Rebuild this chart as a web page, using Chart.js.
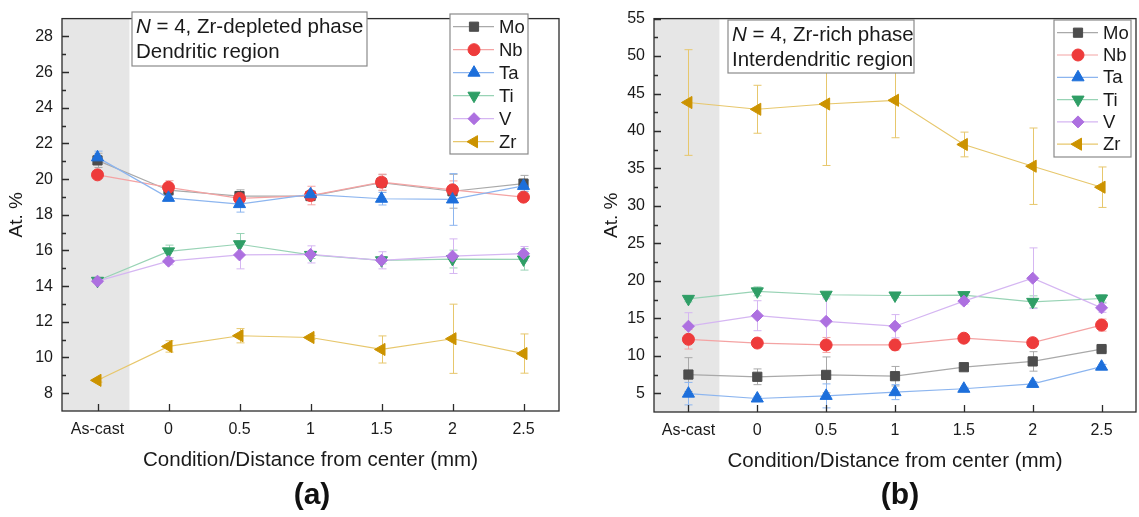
<!DOCTYPE html>
<html>
<head>
<meta charset="utf-8">
<title>Composition profiles</title>
<script src="https://cdn.jsdelivr.net/npm/chart.js@4/dist/chart.umd.min.js"></script>
<style>
  html, body { margin: 0; padding: 0; background: #fff; overflow: hidden; }
  #wrap { position: relative; width: 1139px; height: 517px; overflow: hidden; }
  canvas { position: absolute; top: 0; }
  #chartA { left: 0; }
  #chartB { left: 570px; }
  .tag { position: absolute; top: 477px; width: 80px; text-align: center;
         font: bold 30px "Liberation Sans", Arial, sans-serif; color: #111; }
</style>
</head>
<body>
<div id="wrap">
  <canvas id="chartA" width="570" height="517"></canvas>
  <canvas id="chartB" width="574" height="517"></canvas>
  <div class="tag" style="left:272px">(a)</div>
  <div class="tag" style="left:860px">(b)</div>
</div>
<script>
const categories = ['As-cast', '0', '0.5', '1', '1.5', '2', '2.5'];
const elements = ['Mo', 'Nb', 'Ta', 'Ti', 'V', 'Zr'];

// (a) Zr-depleted phase, dendritic region
const moA = [21.05, 19.38, 19.05, 19.05, 19.8, 19.32, 19.75];
const nbA = [20.24, 19.54, 18.92, 19.08, 19.83, 19.4, 18.99];
const taA = [21.22, 18.95, 18.6, 19.15, 18.9, 18.86, 19.62];
const tiA = [14.3, 15.95, 16.35, 15.75, 15.45, 15.52, 15.5];
const vA  = [14.28, 15.4, 15.75, 15.78, 15.45, 15.68, 15.82];
const zrA = [8.72, 10.62, 11.22, 11.12, 10.45, 11.05, 10.22];
const moErrA = [0.4, 0.2, 0.35, 0.2, 0.45, 0.95, 0.46];
const nbErrA = [0.1, 0.37, 0.3, 0.52, 0.45, 0.5, 0.15];
const taErrA = [0.35, 0.15, 0.45, 0.2, 0.35, 1.45, 0.3];
const tiErrA = [0.1, 0.35, 0.6, 0.2, 0.2, 0.5, 0.6];
const vErrA  = [0.1, 0.2, 0.78, 0.48, 0.48, 0.97, 0.4];
const zrErrA = [0.1, 0.32, 0.4, 0.1, 0.76, 1.94, 1.1];

// (b) Zr-rich phase, interdendritic region
const moB = [7.5, 7.2, 7.45, 7.28, 8.48, 9.25, 10.9];
const nbB = [12.2, 11.7, 11.45, 11.45, 12.35, 11.75, 14.1];
const taB = [4.95, 4.3, 4.65, 5.15, 5.6, 6.25, 8.55];
const tiB = [17.6, 18.6, 18.15, 18.05, 18.1, 17.2, 17.65];
const vB  = [13.95, 15.35, 14.6, 13.95, 17.3, 20.35, 16.4];
const zrB = [43.8, 42.9, 43.6, 44.1, 38.2, 35.3, 32.5];
const moErrB = [2.25, 1.05, 2.4, 1.3, 0.3, 1.3, 0.3];
const nbErrB = [1.3, 0.3, 1.0, 0.7, 0.3, 0.3, 0.8];
const taErrB = [1.5, 0.3, 1.6, 1.0, 0.2, 0.3, 0.3];
const tiErrB = [0.4, 0.6, 0.3, 0.3, 0.3, 0.8, 0.5];
const vErrB  = [1.8, 2.0, 3.0, 1.55, 0.4, 4.05, 0.6];
const zrErrB = [7.05, 3.2, 8.2, 5.0, 1.65, 5.1, 2.7];

const yTicksA = [8, 10, 12, 14, 16, 18, 20, 22, 24, 26, 28];
const yTicksB = [5, 10, 15, 20, 25, 30, 35, 40, 45, 50, 55];

const FONT = '"Liberation Sans", Arial, sans-serif';
const INK = '#1a1a1a';

const styles = {
  Mo: { mark: '#4d4d4d', line: '#a9a9a9', shape: 'rect', r: 6.5, rot: 0 },
  Nb: { mark: '#ee3b3b', line: '#f4a3a3', shape: 'circle', r: 6, rot: 0 },
  Ta: { mark: '#1d6fdb', line: '#8cb5ef', shape: 'triangle', r: 7, rot: 0 },
  Ti: { mark: '#2f9e66', line: '#98d3b5', shape: 'triangle', r: 7, rot: 180 },
  V:  { mark: '#ad70e0', line: '#d5b6f2', shape: 'rectRot', r: 6, rot: 0 },
  Zr: { mark: '#cc9300', line: '#e7c76c', shape: 'triangle', r: 7, rot: -90 }
};

function makeSets(values, errors) {
  return elements.map((el, i) => {
    const s = styles[el];
    return {
      label: el,
      data: values[i],
      errors: errors[i],
      borderColor: s.line,
      borderWidth: 1.2,
      pointStyle: s.shape,
      pointRadius: s.r,
      pointHoverRadius: s.r,
      pointRotation: s.rot,
      pointBackgroundColor: s.mark,
      pointBorderColor: s.mark,
      pointBorderWidth: 1,
      order: elements.length - 1 - i
    };
  });
}

// shading, error bars, inward ticks, frame, note box and legend
const framePlugin = {
  id: 'frame',
  beforeDatasetsDraw(chart, args, opts) {
    const { ctx, chartArea: a, scales: { x, y } } = chart;
    ctx.save();
    const xs = x.getPixelForValue(opts.shadeTo);
    ctx.fillStyle = '#e6e6e6';
    ctx.fillRect(a.left, a.top, xs - a.left, a.bottom - a.top);

    ctx.lineWidth = 1;
    chart.data.datasets.forEach(ds => {
      ctx.strokeStyle = ds.borderColor;
      ds.data.forEach((v, j) => {
        const e = ds.errors[j];
        const px = Math.round(x.getPixelForValue(j)) + 0.5;
        const t = y.getPixelForValue(v + e);
        const b = y.getPixelForValue(v - e);
        ctx.beginPath();
        ctx.moveTo(px, t); ctx.lineTo(px, b);
        ctx.moveTo(px - 4, t); ctx.lineTo(px + 4, t);
        ctx.moveTo(px - 4, b); ctx.lineTo(px + 4, b);
        ctx.stroke();
      });
    });
    ctx.restore();
  },
  afterDatasetsDraw(chart, args, opts) {
    const { ctx, chartArea: a, scales: { x, y } } = chart;
    ctx.save();
    ctx.strokeStyle = '#2b2b2b';
    ctx.lineWidth = 1.3;
    ctx.beginPath();
    y.ticks.forEach(t => {
      const py = Math.round(y.getPixelForValue(t.value)) + 0.5;
      ctx.moveTo(a.left, py); ctx.lineTo(a.left + 7, py);
    });
    for (let k = 0; k < y.ticks.length - 1; k++) {
      const mid = (y.ticks[k].value + y.ticks[k + 1].value) / 2;
      const py = Math.round(y.getPixelForValue(mid)) + 0.5;
      ctx.moveTo(a.left, py); ctx.lineTo(a.left + 4, py);
    }
    categories.forEach((c, j) => {
      const px = Math.round(x.getPixelForValue(j)) + 0.5;
      ctx.moveTo(px, a.bottom); ctx.lineTo(px, a.bottom - 7);
    });
    ctx.stroke();
    ctx.strokeRect(a.left, a.top, a.right - a.left, a.bottom - a.top);

    // note box
    const n = opts.note;
    ctx.fillStyle = '#fff';
    ctx.fillRect(n.x, n.y, n.w, n.h);
    ctx.strokeStyle = '#8a8a8a';
    ctx.lineWidth = 1.2;
    ctx.strokeRect(n.x, n.y, n.w, n.h);
    ctx.fillStyle = INK;
    ctx.textBaseline = 'middle';
    ctx.textAlign = 'left';
    ctx.font = 'italic 20.5px ' + FONT;
    ctx.fillText('N', n.x + 4, n.y + n.line1);
    const nw = ctx.measureText('N').width;
    ctx.font = '20.5px ' + FONT;
    ctx.fillText(' = 4, ' + n.phase, n.x + 4 + nw, n.y + n.line1);
    ctx.fillText(n.region, n.x + 4, n.y + n.line2);

    // legend
    const L = opts.legend;
    ctx.fillStyle = '#fff';
    ctx.fillRect(L.x, L.y, L.w, L.h);
    ctx.strokeStyle = '#8a8a8a';
    ctx.strokeRect(L.x, L.y, L.w, L.h);
    ctx.font = '18.5px ' + FONT;
    chart.data.datasets.forEach((ds, i) => {
      const s = styles[ds.label];
      const ry = L.y + L.first + i * L.step;
      ctx.strokeStyle = s.line;
      ctx.lineWidth = 1.2;
      ctx.beginPath();
      ctx.moveTo(L.x + 3, ry); ctx.lineTo(L.x + 44, ry);
      ctx.stroke();
      ctx.fillStyle = s.mark;
      ctx.strokeStyle = s.mark;
      ctx.lineWidth = 1;
      Chart.helpers.drawPoint(ctx, { pointStyle: s.shape, rotation: s.rot, radius: s.r, borderWidth: 1 }, L.x + 24, ry);
      ctx.fillStyle = INK;
      ctx.fillText(ds.label, L.x + 49, ry + 1);
    });
    ctx.restore();
  }
};

function makeChart(id, values, errors, o) {
  return new Chart(document.getElementById(id).getContext('2d'), {
    type: 'line',
    data: { labels: categories, datasets: makeSets(values, errors) },
    options: {
      responsive: false,
      animation: false,
      events: [],
      layout: { padding: { left: 0, right: o.padRight, top: o.padTop, bottom: 0 } },
      plugins: {
        legend: { display: false },
        tooltip: { enabled: false },
        frame: { shadeTo: 0.45, note: o.note, legend: o.legend }
      },
      scales: {
        x: {
          type: 'category',
          offset: true,
          grid: { display: false, drawTicks: false },
          border: { display: false },
          ticks: { color: INK, font: { family: FONT, size: 16 }, padding: 9, autoSkip: false, maxRotation: 0 },
          title: { display: true, text: 'Condition/Distance from center (mm)', color: INK,
                   font: { family: FONT, size: 20.5 }, padding: { top: 0, bottom: o.xTitlePad } },
          afterFit: s => { s.height = o.xHeight; }
        },
        y: {
          type: 'linear',
          min: o.yMin,
          max: o.yMax,
          bounds: 'data',
          afterBuildTicks: s => { s.ticks = o.yTicks.map(v => ({ value: v })); },
          grid: { display: false, drawTicks: false },
          border: { display: false },
          ticks: { color: INK, font: { family: FONT, size: 16 }, padding: 9 },
          title: { display: true, text: 'At. %', color: INK,
                   font: { family: FONT, size: 19 }, padding: { top: o.yTitlePad, bottom: 0 } },
          afterFit: s => { s.width = o.yWidth; }
        }
      }
    },
    plugins: [framePlugin]
  });
}

makeChart('chartA',
  [moA, nbA, taA, tiA, vA, zrA],
  [moErrA, nbErrA, taErrA, tiErrA, vErrA, zrErrA],
  {
    padRight: 11, padTop: 8, xHeight: 106, xTitlePad: 44.7, yWidth: 62, yTitlePad: 5.6,
    yMin: 7, yMax: 29, yTicks: yTicksA,
    note: { x: 132, y: 12, w: 235, h: 54, line1: 15, line2: 40,
            phase: 'Zr-depleted phase', region: 'Dendritic region' },
    legend: { x: 450, y: 14, w: 78, h: 140, first: 12.7, step: 23 }
  });

makeChart('chartB',
  [moB, nbB, taB, tiB, vB, zrB],
  [moErrB, nbErrB, taErrB, tiErrB, vErrB, zrErrB],
  {
    padRight: 1, padTop: 16, xHeight: 105, xTitlePad: 43.7, yWidth: 84, yTitlePad: 30.6,
    yMin: 2.5, yMax: 55, yTicks: yTicksB,
    note: { x: 158, y: 20, w: 186, h: 53, line1: 15, line2: 40,
            phase: 'Zr-rich phase', region: 'Interdendritic region' },
    legend: { x: 484, y: 20, w: 77, h: 137, first: 12.7, step: 22.3 }
  });
</script>
</body>
</html>
